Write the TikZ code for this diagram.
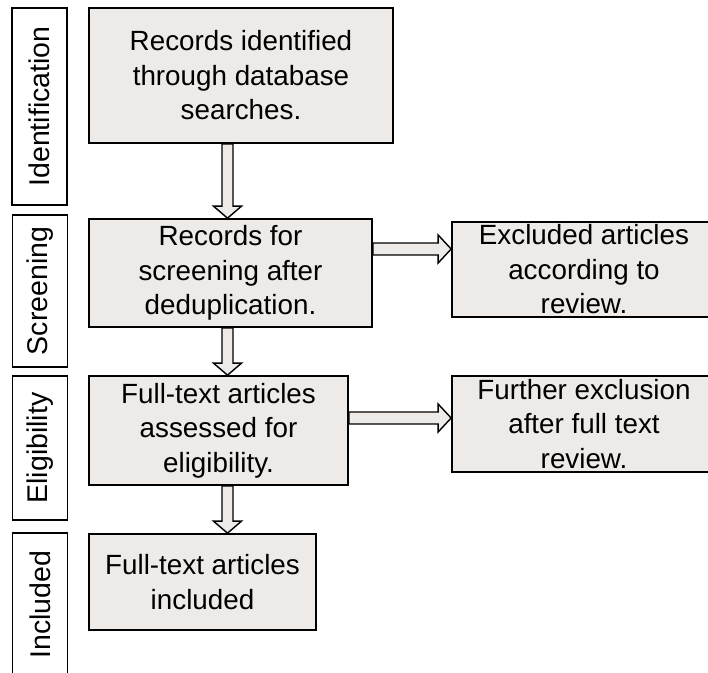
\documentclass[tikz,border=0pt]{standalone}
\usepackage{fontspec}
\setmainfont{Liberation Sans}
\usepackage{xcolor}
\usepackage{tikz}
\usetikzlibrary{calc}

\definecolor{boxgray}{RGB}{237,234,231}

% hollow block arrows, #1 = back end, #2 = tip
\newcommand{\vblockarrow}[2]{%
  \draw[blockarrow] ($(#1)+(-5.5,0)$) -- ($(#2)+(-5.5,-12)$) -- ($(#2)+(-14,-12)$) -- (#2)
    -- ($(#2)+(14,-12)$) -- ($(#2)+(5.5,-12)$) -- ($(#1)+(5.5,0)$) -- cycle;}
\newcommand{\hblockarrow}[2]{%
  \draw[blockarrow] ($(#1)+(0,-6)$) -- ($(#2)+(-13,-6)$) -- ($(#2)+(-13,-14)$) -- (#2)
    -- ($(#2)+(-13,14)$) -- ($(#2)+(-13,6)$) -- ($(#1)+(0,6)$) -- cycle;}

\begin{document}
\begin{tikzpicture}[
      x=1pt,y=-1pt,
      font=\fontsize{27.8}{34.5}\selectfont,
      stagebox/.style={draw,line width=1.7pt,fill=boxgray,align=center,inner sep=0pt},
      phase/.style={draw,line width=1.7pt,fill=white,rotate=90,inner sep=0pt,minimum height=55pt,font=\fontsize{28.5}{34}\selectfont},
      blockarrow/.style={draw,line width=1.4pt,fill=boxgray,line join=miter}
    ]
      \useasboundingbox (0,0) rectangle (708,672);
      \clip (0,0) rectangle (708,672);

      \node[phase,minimum width=197pt] (pid) at (39.5,106.5) {Identification};
      \node[phase,minimum width=152pt] (pscr) at (40,291) {Screening};
      \node[phase,minimum width=144pt] (pelig) at (40,448) {Eligibility};
      \node[phase,minimum width=143pt] (pincl) at (40,604.5) {Included};

      \node[stagebox,minimum width=304pt,minimum height=135pt] (records) at (241,75.5) {Records identified\\through database\\searches.};
      \node[stagebox,minimum width=283pt,minimum height=108pt] (screen) at (230.5,273) {Records for\\screening after\\deduplication.};
      \node[stagebox,minimum width=259pt,minimum height=109pt] (fulltext) at (218.5,430.5) {Full-text articles\\assessed for\\eligibility.};
      \node[stagebox,minimum width=227pt,minimum height=96pt] (included) at (202.5,582) {Full-text articles\\included};

      \node[stagebox,minimum width=264pt,minimum height=95pt] (excl) at (584,269.5) {Excluded articles\\according to\\review.};
      \node[stagebox,minimum width=264pt,minimum height=96pt] (further) at (584,424) {Further exclusion\\after full text\\review.};

      \coordinate (ax) at (227.5,0);
      \coordinate (ay1) at (0,249);
      \coordinate (ay2) at (0,418);

      \vblockarrow{records.south -| ax}{screen.north -| ax}
      \vblockarrow{screen.south -| ax}{fulltext.north -| ax}
      \vblockarrow{fulltext.south -| ax}{included.north -| ax}

      \hblockarrow{screen.east |- ay1}{excl.west |- ay1}
      \hblockarrow{fulltext.east |- ay2}{further.west |- ay2}
    \end{tikzpicture}
\end{document}
